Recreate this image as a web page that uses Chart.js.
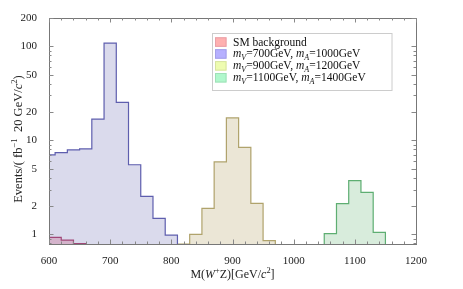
<!DOCTYPE html>
<html>
<head>
<meta charset="utf-8">
<script src="https://cdn.jsdelivr.net/npm/chart.js@4/dist/chart.umd.min.js"></script>
<style>
  body { margin: 0; background: #fff; }
</style>
</head>
<body>
<canvas id="myChart" width="463" height="289"></canvas>
<script>
// bin width 20 GeV, first value is the left edge of each series
var binWidth = 20;
var smStart = 600;
var smCounts = [0.93, 0.87, 0.80];
var v700Start = 590;
var v700Counts = [7.0, 7.4, 7.9, 8.1, 16.8, 108, 25.3, 5.5, 2.54, 1.48, 0.98];
var v900Start = 810;
var v900Counts = [0.79, 1.0, 1.89, 5.9, 17.3, 8.4, 2.14, 0.86];
var v1100Start = 1050;
var v1100Counts = [1.02, 2.12, 3.73, 2.8, 1.05];

var xTicks = [600, 700, 800, 900, 1000, 1100, 1200];
var yTicks = [1, 2, 5, 10, 20, 50, 100, 200];
var yMinor = [0.8, 0.9, 3, 4, 6, 7, 8, 9, 30, 40, 60, 70, 80, 90];

var legendLabels = [
  [["SM background", ""]],
  [["m", "i"], ["V", "isub"], ["=700GeV, ", ""], ["m", "i"], ["A", "isub"], ["=1000GeV", ""]],
  [["m", "i"], ["V", "isub"], ["=900GeV, ", ""], ["m", "i"], ["A", "isub"], ["=1200GeV", ""]],
  [["m", "i"], ["V", "isub"], ["=1100GeV, ", ""], ["m", "i"], ["A", "isub"], ["=1400GeV", ""]]
];
var swatchColors = ["#ffb0b0", "#b6b0ff", "#eefcb0", "#b0f8cc"];
var swatchEdges = ["#e8a0a8", "#a4a0e8", "#d8e4a0", "#a0e0b8"];

var serif = '"Liberation Serif", "Times New Roman", serif';

function steps(start, counts) {
  var pts = [{x: start - binWidth, y: 0.1}];
  counts.forEach(function(c, i) {
    pts.push({x: start + i * binWidth, y: c});
  });
  pts.push({x: start + counts.length * binWidth, y: 0.1});
  return pts;
}

function histo(data, line, fill) {
  return {
    data: data,
    stepped: true,
    borderColor: line,
    backgroundColor: fill,
    borderWidth: 1.2,
    pointRadius: 0,
    fill: 'start'
  };
}

// mixed italic / super / subscript text
function richText(ctx, segs, x, y, size) {
  var cx = x;
  segs.forEach(function(s) {
    var st = s[1];
    var small = st.indexOf('sup') >= 0 || st.indexOf('sub') >= 0;
    var fs = small ? size * 0.7 : size;
    var ital = st == 'i' || st == 'isub' || st == 'isup';
    ctx.font = (ital ? 'italic ' : '') + fs + 'px ' + serif;
    var dy = st.indexOf('sup') >= 0 ? -size * 0.4 : (st.indexOf('sub') >= 0 ? size * 0.25 : 0);
    ctx.fillText(s[0], cx, y + dy);
    cx += ctx.measureText(s[0]).width;
  });
  return cx - x;
}
function richWidth(ctx, segs, size) {
  var w = 0;
  segs.forEach(function(s) {
    var st = s[1];
    var small = st.indexOf('sup') >= 0 || st.indexOf('sub') >= 0;
    var ital = st == 'i' || st == 'isub' || st == 'isup';
    ctx.font = (ital ? 'italic ' : '') + (small ? size * 0.7 : size) + 'px ' + serif;
    w += ctx.measureText(s[0]).width;
  });
  return w;
}

var framePlugin = {
  id: 'frame',
  afterDraw: function(chart) {
    var ctx = chart.ctx, a = chart.chartArea;
    var xs = chart.scales.x, ys = chart.scales.y;
    ctx.save();
    ctx.strokeStyle = '#777';
    ctx.lineWidth = 1;
    ctx.strokeRect(Math.round(a.left) + 0.5, Math.round(a.top) + 0.5, Math.round(a.right - a.left), Math.round(a.bottom - a.top));
    ctx.strokeStyle = '#888';
    ctx.beginPath();
    for (var v = 600; v <= 1200; v += 20) {
      var px = Math.round(xs.getPixelForValue(v)) + 0.5;
      var len = (v % 100 == 0) ? 4.5 : 2.5;
      ctx.moveTo(px, a.bottom); ctx.lineTo(px, a.bottom - len);
      ctx.moveTo(px, a.top); ctx.lineTo(px, a.top + len);
    }
    yTicks.concat(yMinor).forEach(function(v) {
      var py = Math.round(ys.getPixelForValue(v)) + 0.5;
      var len = yTicks.indexOf(v) >= 0 ? 4.5 : 2.5;
      ctx.moveTo(a.left, py); ctx.lineTo(a.left + len, py);
      ctx.moveTo(a.right, py); ctx.lineTo(a.right - len, py);
    });
    ctx.stroke();

    // axis titles
    ctx.fillStyle = '#222';
    ctx.textBaseline = 'alphabetic';
    var xt = [["M(", ""], ["W", "i"], ["+", "sup"], ["Z)[GeV/", ""], ["c", "i"], ["2", "sup"], ["]", ""]];
    var w = richWidth(ctx, xt, 12);
    richText(ctx, xt, (a.left + a.right) / 2 - w / 2, 278, 12);

    var yt = [["Events/( fb", ""], ["\u22121", "sup"], ["  20 GeV/", ""], ["c", "i"], ["2", "sup"], [")", ""]];
    ctx.save();
    ctx.translate(21.5, 139);
    ctx.rotate(-Math.PI / 2);
    w = richWidth(ctx, yt, 12.5);
    richText(ctx, yt, -w / 2, 0, 12.5);
    ctx.restore();

    // legend
    ctx.fillStyle = '#fff';
    ctx.fillRect(213, 33.5, 179, 57);
    ctx.strokeStyle = '#ccc';
    ctx.strokeRect(212.5, 33.5, 179.5, 57);
    legendLabels.forEach(function(segs, i) {
      var top = 37.3 + i * 11.9;
      ctx.fillStyle = swatchColors[i];
      ctx.fillRect(215, top, 11.5, 9.5);
      ctx.strokeStyle = swatchEdges[i];
      ctx.strokeRect(215.5, top + 0.5, 10.5, 8.5);
      ctx.fillStyle = '#111';
      richText(ctx, segs, 233, top + 8.2, 11.5);
    });
    ctx.restore();
  }
};

new Chart("myChart", {
  type: "line",
  data: {
    datasets: [
      histo(steps(smStart, smCounts), "#a04878", "rgba(205,130,165,0.45)"),
      histo(steps(v700Start, v700Counts), "#5e5eae", "#dadaec"),
      histo(steps(v900Start, v900Counts), "#b0a36c", "#ebe6d6"),
      histo(steps(v1100Start, v1100Counts), "#5eae72", "#d8ecdc")
    ]
  },
  options: {
    responsive: false,
    animation: false,
    events: [],
    layout: {padding: {left: 0, right: 47, top: 18, bottom: 0}},
    plugins: {
      legend: {display: false},
      tooltip: {enabled: false}
    },
    scales: {
      x: {
        type: 'linear',
        min: 600,
        max: 1200,
        afterBuildTicks: function(s) { s.ticks = xTicks.map(function(v) { return {value: v}; }); },
        afterFit: function(s) { s.height = 45; },
        ticks: {
          callback: function(v) { return String(v); },
          font: {family: serif, size: 11},
          color: '#222',
          padding: 3,
          maxRotation: 0
        },
        grid: {display: false},
        border: {display: false}
      },
      y: {
        type: 'logarithmic',
        min: 0.79,
        max: 200,
        afterBuildTicks: function(s) { s.ticks = yTicks.map(function(v) { return {value: v}; }); },
        afterFit: function(s) { s.width = 49; },
        ticks: {
          callback: function(v) { return String(v); },
          font: {family: serif, size: 11},
          color: '#222',
          padding: 4
        },
        grid: {display: false},
        border: {display: false}
      }
    }
  },
  plugins: [framePlugin]
});
</script>
</body>
</html>
